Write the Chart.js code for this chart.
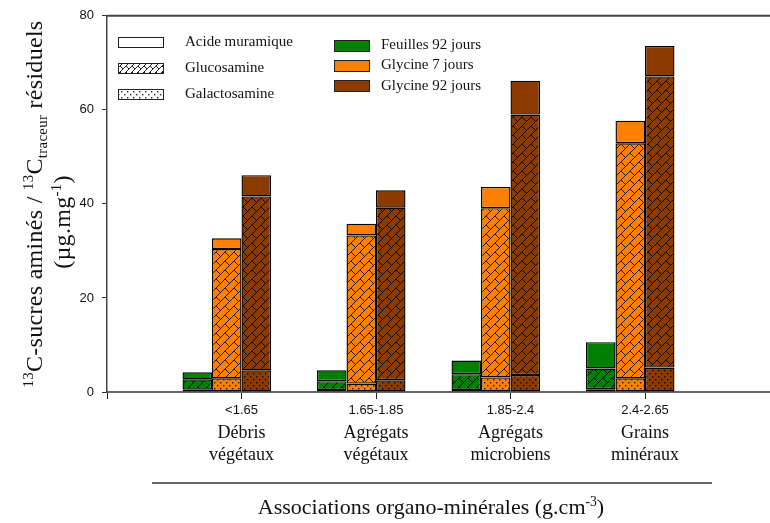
<!DOCTYPE html>
<html>
<head>
<meta charset="utf-8">
<script src="https://cdn.jsdelivr.net/npm/chart.js@4.4.0/dist/chart.umd.min.js"></script>
<style>
  html, body { margin: 0; padding: 0; background: #fff; overflow: hidden; width: 770px; height: 523px; }
  #wrap { position: relative; width: 790px; height: 523px; }
  canvas { display: block; }
  .title { position: absolute; font-family: "Liberation Serif", serif; color: #111; white-space: nowrap; }
  .ytitle { transform: translate(-50%, -50%) rotate(-90deg); font-size: 24px; letter-spacing: 0.3px; }
  .xtitle { transform: translate(-50%, -50%); font-size: 22px; }
  sup, sub { font-size: 0.62em; line-height: 0; }
</style>
</head>
<body>
<div id="wrap">
  <canvas id="sucresChart" width="790" height="523"></canvas>
  <div class="title ytitle" style="left:34px; top:204px;"><sup>13</sup>C-sucres aminés / <sup>13</sup>C<sub>traceur</sub> résiduels</div>
  <div class="title ytitle" style="left:62px; top:222px;">(µg.mg<sup>-1</sup>)</div>
  <div class="title xtitle" style="left:431px; top:507px;">Associations organo-minérales (g.cm<sup>-3</sup>)</div>
</div>
<script>
// Categories (empty slots at each end keep the axis spacing of the original)
const categories = ['', '<1.65', '1.65-1.85', '1.85-2.4', '2.4-2.65', ''];
const categoryNames = [[], ['Débris', 'végétaux'], ['Agrégats', 'végétaux'], ['Agrégats', 'microbiens'], ['Grains', 'minéraux'], []];

// Feuilles 92 jours
const feuilles92Galacto = [null, 0.5, 0.4, 0.4, 0.6, null];
const feuilles92Gluco = [null, 2.2, 1.9, 3.4, 4.4, null];
const feuilles92Muram = [null, 1.5, 2.3, 2.9, 5.6, null];
// Glycine 7 jours
const glycine7Galacto = [null, 2.9, 1.8, 3.1, 2.9, null];
const glycine7Gluco = [null, 27.5, 31.5, 36.0, 50.0, null];
const glycine7Muram = [null, 2.3, 2.5, 4.5, 4.8, null];
// Glycine 92 jours
const glycine92Galacto = [null, 4.6, 2.5, 3.6, 5.2, null];
const glycine92Gluco = [null, 37.0, 36.7, 55.4, 61.9, null];
const glycine92Muram = [null, 4.5, 3.7, 7.2, 6.5, null];

const yMin = 0;
const yMax = 80;
const yStep = 20;

const GREEN = '#008000';
const ORANGE = '#ff7f00';
const BROWN = '#8b3a00';
const EDGE = '#000';

const serif = '"Liberation Serif", serif';
const sans = '"Liberation Sans", Arial, sans-serif';

// Diagonal brick hatch (glucosamine)
function brickPattern(base, s = 9) {
  const T = 2 * s;
  const c = document.createElement('canvas');
  c.width = T; c.height = T;
  const g = c.getContext('2d');
  g.fillStyle = base;
  g.fillRect(0, 0, T, T);
  g.strokeStyle = 'rgba(0,0,0,0.85)';
  g.lineWidth = 1;
  g.beginPath();
  for (let k = -4; k <= 8; k++) {
    // "/" lines: x + y = k*s
    const a = k * s;
    g.moveTo(a + 40, -40);
    g.lineTo(a - 40 - T, T + 40);
  }
  for (let k = -4; k <= 8; k++) {
    for (let m = -4; m <= 4; m++) {
      const b = 2 * s * m + (((k % 2) + 2) % 2) * s;
      const a0 = k * s, a1 = (k + 1) * s;
      g.moveTo((a0 + b) / 2, (a0 - b) / 2);
      g.lineTo((a1 + b) / 2, (a1 - b) / 2);
    }
  }
  g.stroke();
  return g.createPattern(c, 'repeat');
}

// Dotted fill (galactosamine)
function dotPattern(base) {
  const c = document.createElement('canvas');
  c.width = 6; c.height = 6;
  const g = c.getContext('2d');
  g.fillStyle = base;
  g.fillRect(0, 0, 6, 6);
  g.fillStyle = 'rgba(0,0,0,0.85)';
  g.fillRect(1, 1, 1.4, 1.4);
  g.fillRect(4, 4, 1.4, 1.4);
  return g.createPattern(c, 'repeat');
}

function barSet(label, data, fill, stack) {
  return {
    label, data, stack,
    backgroundColor: fill,
    borderColor: EDGE,
    borderWidth: 1.4,
    borderSkipped: false,
    categoryPercentage: 0.877,
    barPercentage: 1.0
  };
}

const legendPlugin = {
  id: 'customLegend',
  afterDraw(chart) {
    const ctx = chart.ctx;
    const area = chart.chartArea;
    ctx.save();

    // frame line at the top of the plot
    ctx.strokeStyle = '#444';
    ctx.lineWidth = 2;
    ctx.beginPath();
    ctx.moveTo(area.left, area.top);
    ctx.lineTo(chart.width, area.top);
    ctx.stroke();

    // category names under the density ticks
    const xs = chart.scales.x;
    ctx.fillStyle = '#111';
    ctx.font = '18px ' + serif;
    ctx.textAlign = 'center';
    ctx.textBaseline = 'middle';
    categoryNames.forEach((lines, i) => {
      const x = xs.getPixelForValue(i);
      lines.forEach((t, j) => ctx.fillText(t, x, 433 + j * 22));
    });

    // separator line above the x title
    ctx.strokeStyle = '#333';
    ctx.lineWidth = 1.5;
    ctx.beginPath();
    ctx.moveTo(152, 483);
    ctx.lineTo(712, 483);
    ctx.stroke();

    // left legend: components
    const comps = [
      ['Acide muramique', '#fff', 37, 42],
      ['Glucosamine', brickPattern('#fff', 6), 63, 68],
      ['Galactosamine', dotPattern('#fff'), 89, 94]
    ];
    ctx.textAlign = 'left';
    ctx.font = '15px ' + serif;
    ctx.lineWidth = 1;
    comps.forEach(([t, fill, by, ty]) => {
      ctx.fillStyle = fill;
      ctx.fillRect(118.5, by + 0.5, 45, 10);
      ctx.strokeStyle = '#222';
      ctx.strokeRect(118.5, by + 0.5, 45, 10);
      ctx.fillStyle = '#111';
      ctx.fillText(t, 185, ty);
    });

    // right legend: treatments
    const treats = [
      ['Feuilles 92 jours', GREEN, 40, 45],
      ['Glycine 7 jours', ORANGE, 60, 65],
      ['Glycine 92 jours', BROWN, 80, 86]
    ];
    treats.forEach(([t, fill, by, ty]) => {
      ctx.fillStyle = fill;
      ctx.fillRect(334.5, by + 0.5, 35, 11);
      ctx.strokeStyle = '#222';
      ctx.strokeRect(334.5, by + 0.5, 35, 11);
      ctx.fillStyle = '#111';
      ctx.fillText(t, 381, ty);
    });
    ctx.restore();
  }
};

const datasets = [
  barSet('Feuilles 92 jours - Galactosamine', feuilles92Galacto, dotPattern(GREEN), 'feuilles92'),
  barSet('Feuilles 92 jours - Glucosamine', feuilles92Gluco, brickPattern(GREEN), 'feuilles92'),
  barSet('Feuilles 92 jours - Acide muramique', feuilles92Muram, GREEN, 'feuilles92'),
  barSet('Glycine 7 jours - Galactosamine', glycine7Galacto, dotPattern(ORANGE), 'glycine7'),
  barSet('Glycine 7 jours - Glucosamine', glycine7Gluco, brickPattern(ORANGE), 'glycine7'),
  barSet('Glycine 7 jours - Acide muramique', glycine7Muram, ORANGE, 'glycine7'),
  barSet('Glycine 92 jours - Galactosamine', glycine92Galacto, dotPattern(BROWN), 'glycine92'),
  barSet('Glycine 92 jours - Glucosamine', glycine92Gluco, brickPattern(BROWN), 'glycine92'),
  barSet('Glycine 92 jours - Acide muramique', glycine92Muram, BROWN, 'glycine92'),
  // empty fourth slot, as in the original layout
  barSet('', categories.map(() => null), 'transparent', 'vide')
];

const ctx = document.getElementById('sucresChart').getContext('2d');
new Chart(ctx, {
  type: 'bar',
  data: { labels: categories, datasets },
  options: {
    responsive: false,
    animation: false,
    layout: { padding: { top: 11, right: 10.5, left: 0, bottom: 0 } },
    plugins: { legend: { display: false }, tooltip: { enabled: false } },
    scales: {
      x: {
        type: 'category',
        offset: false,
        grid: { offset: false, drawOnChartArea: false, drawTicks: true, tickLength: 7, color: '#222', lineWidth: 1 },
        border: { display: true, color: '#666', width: 2 },
        ticks: { autoSkip: false, maxRotation: 0, color: '#111', font: { family: sans, size: 13 }, padding: 4 },
        afterFit: (scale) => { scale.height = 131; }
      },
      y: {
        stacked: true,
        min: yMin,
        max: yMax,
        grid: { drawOnChartArea: false, drawTicks: true, tickLength: 5, color: '#333', lineWidth: 1 },
        border: { display: true, color: '#444', width: 1.5 },
        ticks: { stepSize: yStep, color: '#111', font: { family: sans, size: 13 }, padding: 8 },
        afterFit: (scale) => { scale.width = 107; }
      }
    }
  },
  plugins: [legendPlugin]
});
</script>
</body>
</html>
